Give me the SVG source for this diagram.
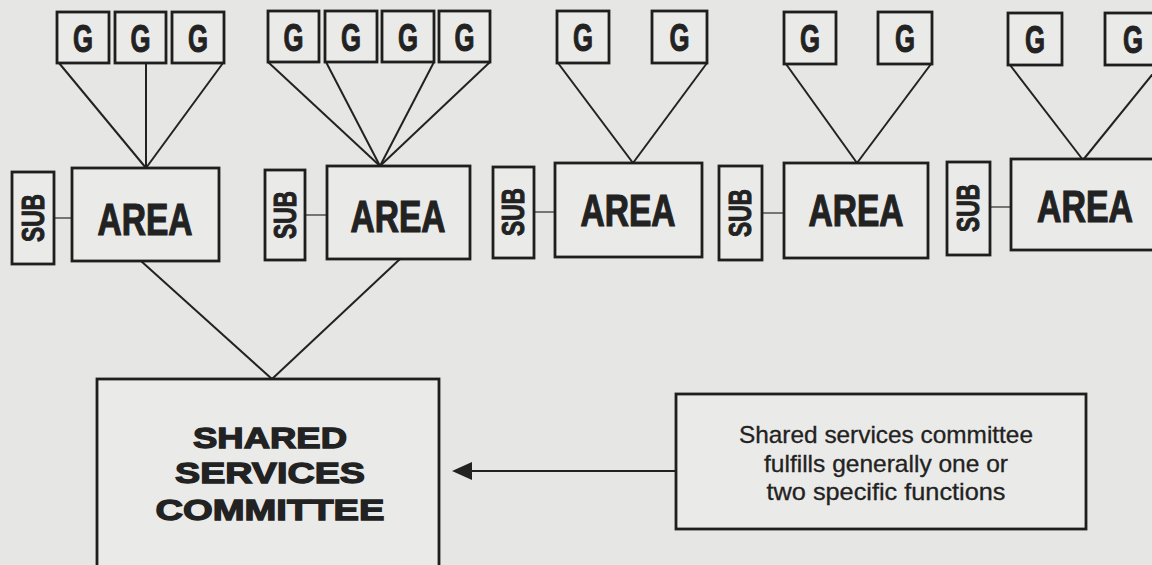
<svg xmlns="http://www.w3.org/2000/svg" width="1152" height="565" viewBox="0 0 1152 565">
<style>
.bg{fill:#e6e6e4}
.box{fill:#eaeae8;stroke:#1e1e1e;stroke-width:2.8}
.ln{fill:none;stroke:#222;stroke-width:2}
.sl{fill:none;stroke:#444;stroke-width:1.4}
.g{font-family:"Liberation Sans",Arial,sans-serif;font-weight:bold;font-size:38px;fill:#222;stroke:#222;stroke-width:1;text-anchor:middle}
.area{font-family:"Liberation Sans",Arial,sans-serif;font-weight:bold;font-size:44px;fill:#222;stroke:#222;stroke-width:1.2;text-anchor:middle}
.sub{font-family:"Liberation Sans",Arial,sans-serif;font-weight:bold;font-size:31px;fill:#222;stroke:#222;stroke-width:1;text-anchor:middle}
.ssc{font-family:"Liberation Sans",Arial,sans-serif;font-weight:900;font-size:30px;fill:#222;stroke:#222;stroke-width:1.3;text-anchor:middle}
.note{font-family:"Liberation Sans",Arial,sans-serif;font-size:24px;fill:#222;stroke:#222;stroke-width:0.3;text-anchor:middle}
</style>
<rect class="bg" x="0" y="0" width="1152" height="565"/>

<g id="connectors">
  <line class="ln" x1="59" y1="63" x2="146" y2="168"/>
  <line class="ln" x1="146" y1="63" x2="146" y2="168"/>
  <line class="ln" x1="223" y1="63" x2="146" y2="168"/>
  <line class="sl" x1="54" y1="218" x2="72" y2="218"/>
  <line class="ln" x1="268" y1="62" x2="380" y2="166"/>
  <line class="ln" x1="326" y1="62" x2="380" y2="166"/>
  <line class="ln" x1="434" y1="62" x2="380" y2="166"/>
  <line class="ln" x1="490" y1="62" x2="380" y2="166"/>
  <line class="sl" x1="305" y1="215" x2="327" y2="215"/>
  <line class="ln" x1="558" y1="63" x2="633" y2="163"/>
  <line class="ln" x1="707" y1="63" x2="633" y2="163"/>
  <line class="sl" x1="534" y1="212" x2="555" y2="212"/>
  <line class="ln" x1="786" y1="64" x2="857" y2="163"/>
  <line class="ln" x1="931" y1="64" x2="857" y2="163"/>
  <line class="sl" x1="762" y1="213" x2="784" y2="213"/>
  <line class="ln" x1="1010" y1="65" x2="1083" y2="160"/>
  <line class="ln" x1="1160" y1="65" x2="1083" y2="160"/>
  <line class="sl" x1="990" y1="207" x2="1011" y2="207"/>
  <line class="ln" x1="141" y1="261" x2="272" y2="379"/>
  <line class="ln" x1="400" y1="259" x2="272" y2="379"/>
  <line class="ln" x1="676" y1="471" x2="468" y2="471"/>
  <polygon points="452,471 472,462 472,480" fill="#222"/>
</g>

<g id="g1-1"><rect class="box" x="57" y="12" width="52" height="51"/><text class="g" x="83" y="52" textLength="20" lengthAdjust="spacingAndGlyphs">G</text></g>
<g id="g1-2"><rect class="box" x="115" y="12" width="51" height="51"/><text class="g" x="140.5" y="52" textLength="20" lengthAdjust="spacingAndGlyphs">G</text></g>
<g id="g1-3"><rect class="box" x="172" y="12" width="52" height="51"/><text class="g" x="198" y="52" textLength="20" lengthAdjust="spacingAndGlyphs">G</text></g>

<g id="g2-1"><rect class="box" x="268" y="11" width="51" height="51"/><text class="g" x="293.5" y="51" textLength="20" lengthAdjust="spacingAndGlyphs">G</text></g>
<g id="g2-2"><rect class="box" x="325" y="11" width="52" height="51"/><text class="g" x="351" y="51" textLength="20" lengthAdjust="spacingAndGlyphs">G</text></g>
<g id="g2-3"><rect class="box" x="382" y="11" width="52" height="51"/><text class="g" x="408" y="51" textLength="20" lengthAdjust="spacingAndGlyphs">G</text></g>
<g id="g2-4"><rect class="box" x="439" y="11" width="51" height="51"/><text class="g" x="464.5" y="51" textLength="20" lengthAdjust="spacingAndGlyphs">G</text></g>

<g id="g3-1"><rect class="box" x="557" y="11" width="52" height="52"/><text class="g" x="583" y="51" textLength="20" lengthAdjust="spacingAndGlyphs">G</text></g>
<g id="g3-2"><rect class="box" x="652" y="11" width="55" height="52"/><text class="g" x="679.5" y="51" textLength="20" lengthAdjust="spacingAndGlyphs">G</text></g>

<g id="g4-1"><rect class="box" x="784" y="12" width="52" height="52"/><text class="g" x="810" y="52" textLength="20" lengthAdjust="spacingAndGlyphs">G</text></g>
<g id="g4-2"><rect class="box" x="878" y="12" width="54" height="52"/><text class="g" x="905" y="52" textLength="20" lengthAdjust="spacingAndGlyphs">G</text></g>

<g id="g5-1"><rect class="box" x="1008" y="13" width="54" height="52"/><text class="g" x="1035" y="53" textLength="20" lengthAdjust="spacingAndGlyphs">G</text></g>
<g id="g5-2"><rect class="box" x="1105" y="13" width="56" height="52"/><text class="g" x="1133" y="53" textLength="20" lengthAdjust="spacingAndGlyphs">G</text></g>

<g id="sub1"><rect class="box" x="12" y="172" width="42" height="92"/><text class="sub" transform="translate(44,218) rotate(-90)" x="0" y="0" textLength="48" lengthAdjust="spacingAndGlyphs">SUB</text></g>
<g id="area1"><rect class="box" x="72" y="168" width="147" height="93"/><text class="area" x="145" y="235" textLength="95" lengthAdjust="spacingAndGlyphs">AREA</text></g>

<g id="sub2"><rect class="box" x="265" y="170" width="40" height="90"/><text class="sub" transform="translate(296,215) rotate(-90)" x="0" y="0" textLength="48" lengthAdjust="spacingAndGlyphs">SUB</text></g>
<g id="area2"><rect class="box" x="327" y="166" width="143" height="93"/><text class="area" x="398" y="232" textLength="95" lengthAdjust="spacingAndGlyphs">AREA</text></g>

<g id="sub3"><rect class="box" x="493" y="167" width="41" height="91"/><text class="sub" transform="translate(524,212) rotate(-90)" x="0" y="0" textLength="48" lengthAdjust="spacingAndGlyphs">SUB</text></g>
<g id="area3"><rect class="box" x="555" y="163" width="147" height="94"/><text class="area" x="628" y="226" textLength="95" lengthAdjust="spacingAndGlyphs">AREA</text></g>

<g id="sub4"><rect class="box" x="719" y="166" width="43" height="94"/><text class="sub" transform="translate(751,213) rotate(-90)" x="0" y="0" textLength="48" lengthAdjust="spacingAndGlyphs">SUB</text></g>
<g id="area4"><rect class="box" x="784" y="163" width="144" height="95"/><text class="area" x="856" y="226" textLength="95" lengthAdjust="spacingAndGlyphs">AREA</text></g>

<g id="sub5"><rect class="box" x="947" y="162" width="43" height="93"/><text class="sub" transform="translate(979,208) rotate(-90)" x="0" y="0" textLength="48" lengthAdjust="spacingAndGlyphs">SUB</text></g>
<g id="area5"><rect class="box" x="1011" y="159" width="160" height="91"/><text class="area" x="1085" y="222" textLength="96" lengthAdjust="spacingAndGlyphs">AREA</text></g>

<g id="committee"><rect class="box" x="97" y="379" width="342" height="200"/>
<text class="ssc" x="270" y="448" textLength="154" lengthAdjust="spacingAndGlyphs">SHARED</text>
<text class="ssc" x="270" y="483" textLength="190" lengthAdjust="spacingAndGlyphs">SERVICES</text>
<text class="ssc" x="270" y="520" textLength="229" lengthAdjust="spacingAndGlyphs">COMMITTEE</text>
</g>

<g id="note"><rect class="box" x="676" y="394" width="410" height="135"/>
<text class="note" x="886" y="443" textLength="294" lengthAdjust="spacingAndGlyphs">Shared services committee</text>
<text class="note" x="886" y="472" textLength="244" lengthAdjust="spacingAndGlyphs">fulfills generally one or</text>
<text class="note" x="886" y="500" textLength="239" lengthAdjust="spacingAndGlyphs">two specific functions</text>
</g>
</svg>
